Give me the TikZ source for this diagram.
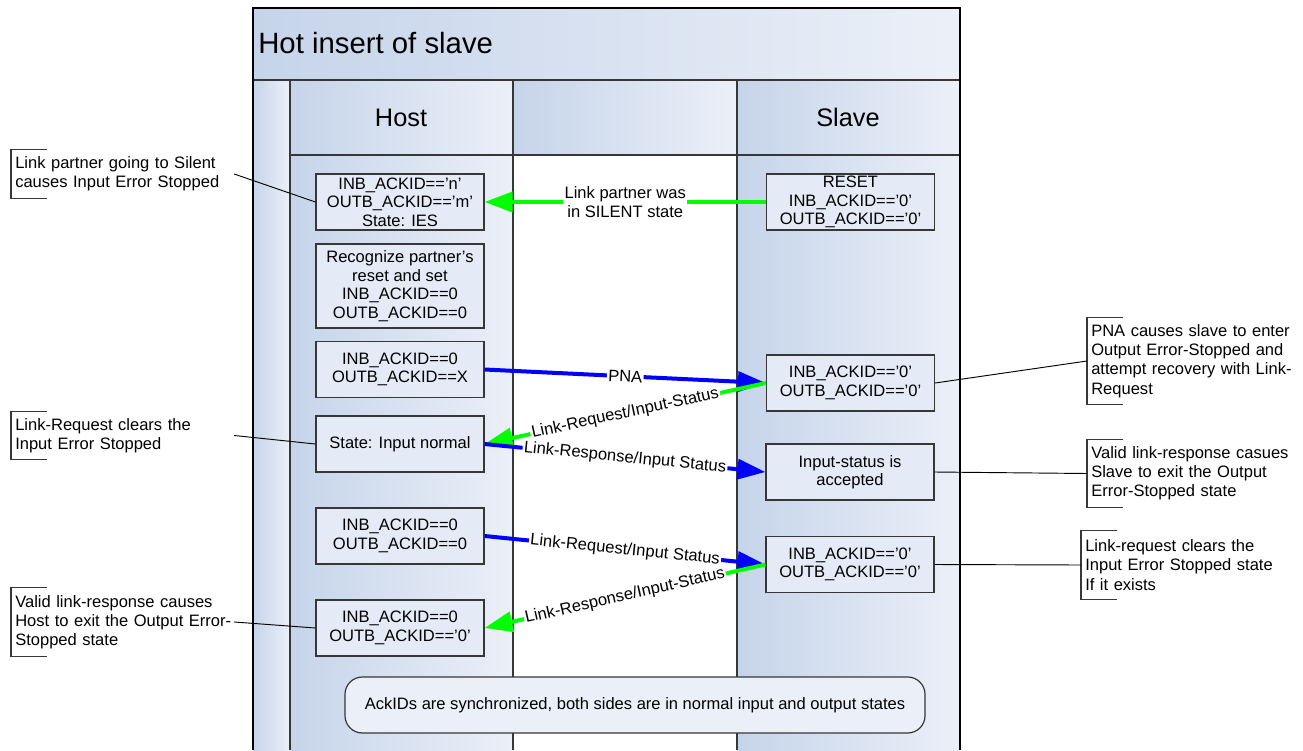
\documentclass[tikz,border=0pt]{standalone}
\usepackage{fontspec}
\setmainfont{Liberation Sans}
\usetikzlibrary{arrows.meta,calc}
\definecolor{laneA}{RGB}{198,212,234}
\definecolor{laneB}{RGB}{235,240,248}
\definecolor{boxfill}{RGB}{228,234,246}
\definecolor{lineGray}{RGB}{55,55,55}
\definecolor{arrowGreen}{RGB}{0,255,0}
\definecolor{arrowBlue}{RGB}{0,0,255}
\begin{document}
\begin{tikzpicture}[x=0.75pt,y=-0.75pt,
  bodyfont/.style={font=\fontsize{12.4}{13.9}\selectfont},
  stbox/.style={draw=lineGray, fill=boxfill, line width=0.9pt, minimum width=126pt,
    minimum height=42pt, align=center, inner sep=1pt, bodyfont},
  lanesep/.style={draw=lineGray, line width=1.1pt},
  garrow/.style={draw=arrowGreen, line width=3pt, -{Triangle[length=21pt,width=15pt]}},
  barrow/.style={draw=arrowBlue, line width=3pt, -{Triangle[length=21pt,width=15pt]}},
  lbl/.style={fill=white, inner sep=1pt, text=black, align=center, bodyfont},
  anno/.style={anchor=west, align=left, inner xsep=3pt, inner ysep=0pt,
    font=\fontsize{12.4}{14.4}\selectfont},
  leader/.style={draw=black, line width=0.7pt},
  bracket/.style={draw=lineGray, line width=0.8pt}
]
\useasboundingbox (0,0) rectangle (1303,750);
\fill[white] (0,0) rectangle (1303,750);

% pool shading
\shade[left color=laneA, right color=laneB] (253,8) rectangle (960,80);
\shade[left color=laneA, right color=laneB] (253,80) rectangle (290,750);
\shade[left color=laneA, right color=laneB] (290,80) rectangle (513,155);
\shade[left color=laneA, right color=laneB] (513,80) rectangle (737,155);
\shade[left color=laneA, right color=laneB] (737,80) rectangle (960,155);
\shade[left color=laneA, right color=laneB] (290,155) rectangle (513,750);
\shade[left color=laneA, right color=laneB] (737,155) rectangle (960,750);

% pool lines
\draw[lanesep] (253,80) -- (960,80);
\draw[lanesep] (290,155) -- (960,155);
\draw[lanesep] (290,80) -- (290,750);
\draw[lanesep] (513,80) -- (513,750);
\draw[lanesep] (737,80) -- (737,750);
\draw[black, line width=1.5pt] (253,750) -- (253,8) -- (960,8) -- (960,750);

% titles
\node[anchor=west, inner sep=0pt, font=\fontsize{22}{26}\selectfont] (title) at (258,43.5) {Hot insert of slave};
\node[inner sep=0pt, font=\fontsize{19}{22}\selectfont] (hostH) at (401,117.5) {Host};
\node[inner sep=0pt, font=\fontsize{19}{22}\selectfont] (slaveH) at (848,117.5) {Slave};

% host boxes
\node[stbox] (h1) at (400,202) {INB\_ACKID=='n'\\OUTB\_ACKID=='m'\\State: IES};
\node[stbox, minimum height=63pt] (h2) at (400,286) {Recognize partner's\\reset and set\\INB\_ACKID==0\\OUTB\_ACKID==0};
\node[stbox] (h3) at (400,369.5) {INB\_ACKID==0\\OUTB\_ACKID==X};
\node[stbox] (h4) at (400,444) {State: Input normal};
\node[stbox] (h5) at (400,536) {INB\_ACKID==0\\OUTB\_ACKID==0};
\node[stbox] (h6) at (400,628) {INB\_ACKID==0\\OUTB\_ACKID=='0'};

% slave boxes
\node[stbox] (s1) at (850.5,202) {RESET\\INB\_ACKID=='0'\\OUTB\_ACKID=='0'};
\node[stbox] (s3) at (850.5,383) {INB\_ACKID=='0'\\OUTB\_ACKID=='0'};
\node[stbox] (s4) at (850,472) {Input-status is\\accepted};
\node[stbox] (s5) at (850,564.5) {INB\_ACKID=='0'\\OUTB\_ACKID=='0'};

% bottom note
\node[draw=lineGray, fill=laneB, line width=0.9pt, rounded corners=13pt,
  minimum width=435pt, minimum height=42pt, bodyfont] (sync) at (635,705)
  {AckIDs are synchronized, both sides are in normal input and output states};

% messages
\draw[garrow] (s1.west) -- node[lbl, midway] {Link partner was\\in SILENT state} (h1.east);
\draw[barrow] (h3.east) -- node[lbl, midway, sloped] {PNA} (s3.west);
\draw[garrow] (s3.west) -- node[lbl, midway, sloped] {Link-Request/Input-Status} (h4.east);
\draw[barrow] (h4.east) -- node[lbl, midway, sloped] {Link-Response/Input Status} (s4.west);
\draw[barrow] (h5.east) -- node[lbl, midway, sloped] {Link-Request/Input Status} (s5.west);
\draw[garrow] (s5.west) -- node[lbl, midway, sloped] {Link-Response/Input-Status} (h6.east);

% annotations
\node[anno, text width=161pt, minimum height=36pt] (a1) at (11,174)
  {\mbox{Link partner going to Silent}\\\mbox{causes Input Error Stopped}};
\node[anno, text width=161pt, minimum height=35.25pt] (a2) at (11,435.5)
  {\mbox{Link-Request clears the}\\\mbox{Input Error Stopped}};
\node[anno, text width=161pt, minimum height=51pt] (a3) at (11,622)
  {\mbox{Valid link-response causes}\\\mbox{Host to exit the Output Error-}\\\mbox{Stopped state}};
\node[anno, text width=160pt, minimum height=64.5pt] (r1) at (1087,361)
  {\mbox{PNA causes slave to enter}\\\mbox{Output Error-Stopped and}\\\mbox{attempt recovery with Link-}\\\mbox{Request}};
\node[anno, text width=160pt, minimum height=50.25pt] (r2) at (1087,473.5)
  {\mbox{Valid link-response casues}\\\mbox{Slave to exit the Output}\\\mbox{Error-Stopped state}};
\node[anno, text width=160pt, minimum height=51pt] (r3) at (1081,565)
  {\mbox{Link-request clears the}\\\mbox{Input Error Stopped state}\\\mbox{If it exists}};

\foreach \n in {a1,a2,a3,r1,r2,r3}{
  \draw[bracket] ([xshift=27pt]\n.north west) -- (\n.north west) -- (\n.south west) -- ([xshift=27pt]\n.south west);
}

\draw[leader] (a1.east) -- (h1.west);
\draw[leader] (a2.east) -- (h4.west);
\draw[leader] (a3.east) -- (h6.west);
\draw[leader] (s3.east) -- (r1.west);
\draw[leader] (s4.east) -- (r2.west);
\draw[leader] (s5.east) -- (r3.west);
\end{tikzpicture}
\end{document}
